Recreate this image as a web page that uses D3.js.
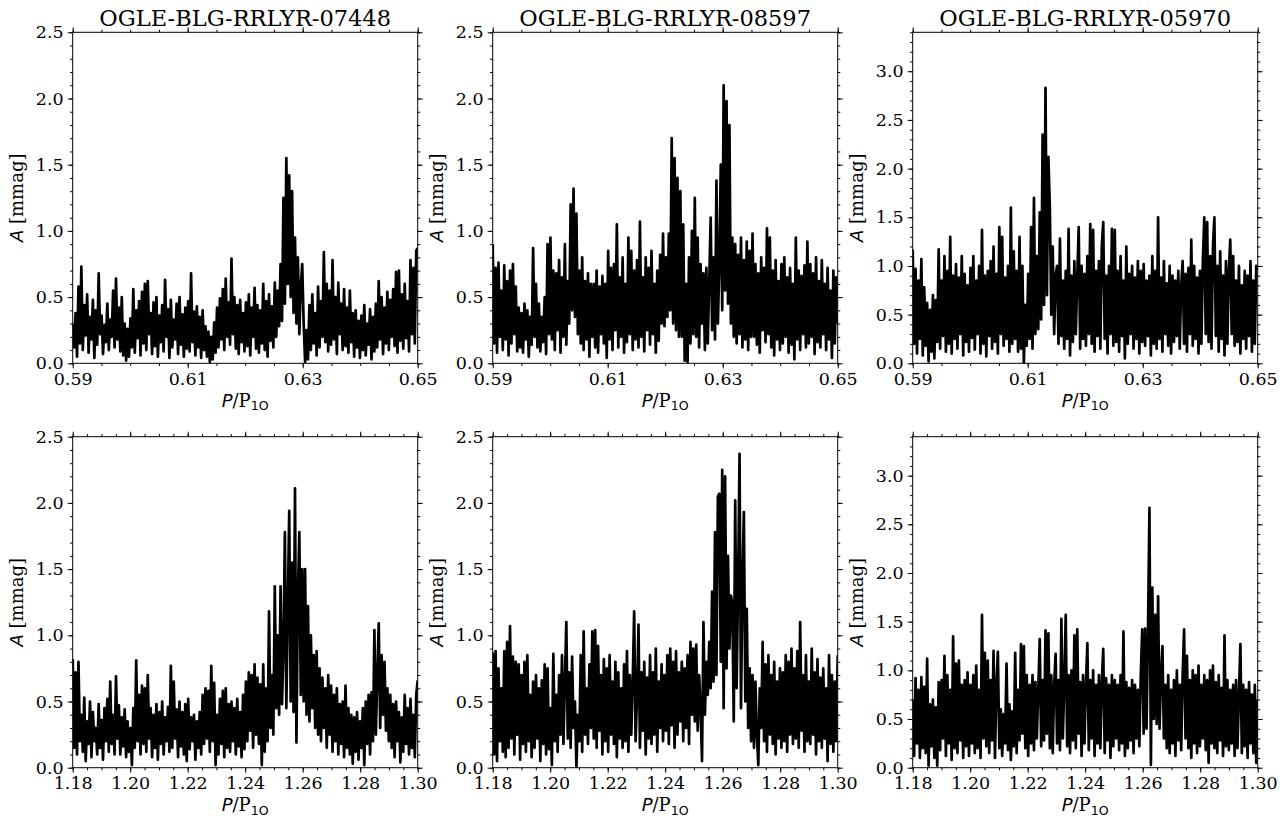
<!DOCTYPE html>
<html>
<head>
<meta charset="utf-8">
<script src="https://cdn.jsdelivr.net/npm/d3@7"></script>
<style>
  body { margin: 0; background: #fff; }
  svg { display: block; }
  .tick text { font-family: "DejaVu Serif", serif; font-size: 17.5px; fill: #000; }
  .tick line { stroke: #000; stroke-width: 1; }
</style>
</head>
<body>
<svg id="chart" width="1286" height="821"></svg>
<script>
// Star names, one per column
const starNames = ["OGLE-BLG-RRLYR-07448", "OGLE-BLG-RRLYR-08597", "OGLE-BLG-RRLYR-05970"];

// Period-ratio windows (top row: near 0.61, bottom row: near 1.25)
const periodRangeTop = [0.59, 0.65];
const periodRangeBottom = [1.18, 1.30];

// Tick values and labels
const xTicksTop = [0.59, 0.61, 0.63, 0.65];
const xTickLabelsTop = ["0.59", "0.61", "0.63", "0.65"];
const xTicksBottom = [1.18, 1.20, 1.22, 1.24, 1.26, 1.28, 1.30];
const xTickLabelsBottom = ["1.18", "1.20", "1.22", "1.24", "1.26", "1.28", "1.30"];
const yTicksShort = [0, 0.5, 1.0, 1.5, 2.0, 2.5];
const yTickLabelsShort = ["0.0", "0.5", "1.0", "1.5", "2.0", "2.5"];
const yTicksTall = [0, 0.5, 1.0, 1.5, 2.0, 2.5, 3.0];
const yTickLabelsTall = ["0.0", "0.5", "1.0", "1.5", "2.0", "2.5", "3.0"];

// Upper amplitude limit per column [mmag]
const amplitudeMax = [2.5, 2.5, 3.4];

// Amplitude spectra [mmag], evenly sampled across each period window
const amp07448Top = [
  0.30,0.12,0.38,0.05,0.58,0.15,0.73,0.10,0.44,0.21,
  0.52,0.08,0.35,0.18,0.48,0.04,0.40,0.14,0.68,0.22,
  0.36,0.07,0.29,0.16,0.45,0.10,0.33,0.20,0.55,0.12,
  0.64,0.18,0.42,0.09,0.50,0.06,0.30,0.02,0.26,0.05,
  0.34,0.12,0.56,0.08,0.40,0.19,0.47,0.06,0.54,0.15,
  0.60,0.10,0.62,0.22,0.38,0.07,0.46,0.13,0.50,0.05,
  0.36,0.16,0.44,0.09,0.63,0.20,0.41,0.04,0.48,0.12,
  0.33,0.18,0.45,0.07,0.50,0.14,0.37,0.05,0.42,0.11,
  0.47,0.09,0.68,0.16,0.39,0.06,0.43,0.12,0.35,0.04,
  0.40,0.10,0.28,0.05,0.24,0.01,0.20,0.03,0.31,0.08,
  0.42,0.12,0.49,0.18,0.56,0.10,0.64,0.20,0.46,0.14,
  0.79,0.22,0.50,0.11,0.44,0.07,0.48,0.16,0.38,0.09,
  0.46,0.13,0.52,0.06,0.42,0.20,0.57,0.11,0.44,0.08,
  0.40,0.15,0.60,0.10,0.47,0.05,0.52,0.17,0.43,0.12,
  0.61,0.20,0.55,0.28,0.75,0.32,1.25,0.45,1.55,0.60,
  1.42,0.50,1.30,0.38,0.95,0.30,0.80,0.22,0.58,0.75,
  0.30,0.01,0.25,0.03,0.44,0.10,0.52,0.15,0.38,0.06,
  0.58,0.12,0.47,0.20,0.84,0.16,0.60,0.09,0.55,0.14,
  0.78,0.18,0.50,0.07,0.61,0.22,0.45,0.10,0.56,0.13,
  0.42,0.08,0.55,0.16,0.38,0.05,0.40,0.12,0.32,0.04,
  0.36,0.10,0.44,0.06,0.30,0.14,0.41,0.03,0.35,0.09,
  0.45,0.12,0.62,0.18,0.50,0.07,0.42,0.15,0.54,0.10,
  0.48,0.20,0.56,0.13,0.69,0.08,0.70,0.17,0.52,0.11,
  0.60,0.19,0.47,0.09,0.78,0.22,0.72,0.15,0.85,0.87
];

const amp08597Top = [
  0.90,0.15,0.72,0.08,0.76,0.20,0.55,0.10,0.74,0.18,
  0.62,0.06,0.70,0.15,0.75,0.22,0.58,0.09,0.42,0.12,
  0.38,0.08,0.45,0.18,0.40,0.05,0.35,0.14,0.87,0.20,
  0.60,0.12,0.45,0.09,0.35,0.16,0.50,0.07,0.90,0.22,
  0.95,0.18,0.70,0.10,0.68,0.25,0.78,0.08,0.65,0.20,
  0.90,0.14,0.62,0.30,1.20,0.40,1.32,0.35,1.13,0.22,
  0.70,0.15,0.80,0.10,0.62,0.18,0.68,0.05,0.60,0.20,
  0.60,0.12,0.70,0.08,0.58,0.22,0.66,0.15,0.60,0.04,
  0.85,0.18,0.72,0.10,0.75,0.25,1.05,0.12,0.65,0.20,
  0.80,0.08,0.60,0.16,0.95,0.22,0.85,0.10,0.70,0.18,
  0.78,0.12,1.07,0.20,0.65,0.09,0.80,0.25,0.72,0.14,
  0.85,0.22,0.60,0.08,0.70,0.17,0.82,0.30,0.98,0.28,
  0.80,0.35,0.98,0.40,1.70,0.30,1.55,0.25,1.40,0.20,
  1.30,0.20,1.05,0.02,0.60,0.01,0.80,0.15,1.00,0.22,
  1.25,0.20,0.95,0.12,0.75,0.30,0.68,0.10,0.72,0.15,
  0.62,1.10,0.25,0.80,0.18,1.38,0.30,0.75,1.50,0.40,
  2.10,0.55,1.98,0.45,1.80,0.30,0.95,0.20,0.90,0.15,
  0.82,0.22,0.95,0.12,0.78,0.18,0.92,0.10,0.85,0.20,
  0.98,0.20,0.75,0.14,0.68,0.08,0.80,0.25,0.72,0.16,
  1.02,0.22,0.95,0.12,0.70,0.06,0.78,0.18,0.62,0.10,
  0.75,0.15,0.80,0.20,0.65,0.08,0.72,0.14,0.60,0.03,
  0.95,0.18,0.70,0.10,0.66,0.22,0.74,0.12,0.92,0.15,
  0.75,0.20,0.68,0.07,0.80,0.16,0.62,0.12,0.78,0.22,
  0.60,0.10,0.72,0.18,0.55,0.04,0.70,0.15,0.65,0.30
];

const amp05970Top = [
  1.17,0.20,0.97,0.10,0.85,0.25,1.07,0.08,0.78,0.18,
  0.62,0.02,0.55,0.12,0.70,0.05,0.65,0.22,1.17,0.15,
  0.85,0.28,1.10,0.12,0.95,0.20,1.30,0.10,0.90,0.25,
  1.02,0.15,0.88,0.30,1.10,0.08,0.92,0.22,0.80,0.12,
  0.98,0.26,1.10,0.14,0.85,0.30,1.00,0.10,1.37,0.20,
  0.90,0.07,0.95,0.28,1.05,0.15,1.20,0.22,0.92,0.10,
  1.40,0.30,1.30,0.18,0.88,0.25,1.00,0.12,1.60,0.20,
  1.15,0.25,0.95,0.12,1.30,0.15,1.00,0.00,0.60,0.18,
  0.92,0.25,1.40,0.15,1.70,0.30,1.10,0.35,1.55,0.45,
  2.35,0.60,2.83,0.70,2.12,1.60,0.50,1.20,0.30,0.90,
  1.00,0.20,1.28,0.28,0.85,0.15,0.95,0.25,1.38,0.08,
  0.90,0.22,1.05,0.30,0.88,1.40,0.15,1.00,0.25,0.92,
  0.18,1.10,0.30,1.43,0.20,1.37,0.12,0.95,0.28,1.05,
  0.15,1.20,1.45,0.25,0.90,0.10,1.00,0.30,1.38,0.18,
  1.37,0.22,0.95,0.12,1.10,0.28,0.85,0.05,1.20,0.20,
  0.92,0.30,1.00,0.15,0.88,0.25,1.05,0.10,0.95,0.22,
  1.02,0.18,0.85,0.28,0.90,0.08,1.10,0.20,0.95,0.15,
  1.50,0.25,0.88,0.12,1.05,0.30,0.82,0.18,1.00,0.10,
  0.90,0.22,0.85,0.28,0.95,0.15,0.80,1.05,0.20,0.92,
  0.12,0.98,0.30,1.27,0.18,1.00,0.25,0.88,0.10,0.95,
  0.20,1.05,1.50,0.30,1.45,0.22,1.10,0.15,1.20,1.50,
  0.28,1.00,0.12,1.15,0.25,0.90,0.08,1.05,0.20,0.95,
  1.27,0.30,1.10,0.18,0.85,0.22,1.00,0.10,0.80,0.25,
  0.95,0.15,0.90,0.28,1.05,0.12,0.85,0.20,1.00,0.95
];

const amp07448Bottom = [
  0.82,0.15,0.72,0.10,0.80,0.20,0.40,0.12,0.53,0.05,
  0.35,0.18,0.50,0.08,0.42,0.20,0.30,0.10,0.48,0.15,
  0.36,0.06,0.45,0.20,0.52,0.12,0.65,0.18,0.40,0.10,
  0.69,0.22,0.47,0.10,0.38,0.16,0.44,0.08,0.35,0.12,
  0.30,0.02,0.45,0.15,0.81,0.20,0.55,0.10,0.62,0.18,
  0.60,0.12,0.70,0.22,0.45,0.08,0.40,0.15,0.48,0.06,
  0.42,0.18,0.50,0.10,0.38,0.20,0.46,0.12,0.77,0.15,
  0.65,0.22,0.44,0.08,0.50,0.16,0.42,0.10,0.48,0.05,
  0.52,0.14,0.38,0.20,0.40,0.06,0.35,0.15,0.42,0.10,
  0.55,0.18,0.60,0.22,0.58,0.12,0.77,0.20,0.64,0.02,
  0.40,0.10,0.52,0.18,0.58,0.08,0.60,0.15,0.48,0.12,
  0.50,0.20,0.45,0.10,0.52,0.16,0.42,0.08,0.55,0.14,
  0.65,0.20,0.72,0.28,0.70,0.15,0.78,0.25,0.68,0.18,
  0.63,0.02,0.78,0.12,0.60,0.20,1.18,0.30,0.70,0.25,
  1.37,0.45,1.00,0.40,1.37,0.48,0.90,1.78,0.45,1.20,
  1.94,0.50,1.55,0.42,2.11,0.19,1.30,1.78,0.55,1.50,
  0.50,1.50,0.40,1.22,0.35,1.00,0.45,0.85,0.30,0.88,
  0.25,0.75,0.20,0.68,0.30,0.60,0.15,0.70,0.25,0.62,
  0.12,0.55,0.20,0.60,0.10,0.48,0.18,0.50,0.08,0.62,
  0.15,0.45,0.10,0.40,0.03,0.38,0.12,0.42,0.06,0.35,
  0.15,0.45,0.02,0.50,0.18,0.55,0.10,0.57,0.20,1.04,
  0.25,0.70,1.09,0.30,0.85,0.40,0.80,0.28,0.60,0.20,
  0.55,0.15,0.48,0.08,0.50,0.20,0.42,0.04,0.38,0.12,
  0.55,0.18,0.45,0.10,0.52,0.15,0.40,0.08,0.55,0.66
];

const amp08597Bottom = [
  0.87,0.10,0.88,0.05,0.75,0.20,0.60,0.12,0.88,0.08,
  0.95,0.15,1.07,0.22,0.84,0.10,0.80,0.25,0.78,0.06,
  0.70,0.18,0.80,0.12,0.85,0.20,0.55,0.08,0.65,0.15,
  0.70,0.22,0.60,0.05,0.66,0.18,0.78,0.10,0.75,0.14,
  0.45,0.02,0.86,0.20,0.55,0.12,0.70,0.25,0.85,0.18,
  0.65,1.10,0.22,0.72,0.15,0.84,0.30,0.50,0.00,0.40,
  0.20,0.85,0.12,1.03,0.25,0.60,0.18,0.78,0.30,1.03,
  0.22,1.04,0.15,0.92,0.28,0.70,0.10,0.82,0.20,0.75,
  0.12,0.85,0.25,0.65,0.18,0.80,0.08,0.72,0.22,0.60,
  0.15,0.78,0.20,0.88,0.12,0.70,0.25,0.65,1.18,0.20,
  0.55,1.08,0.15,0.72,0.28,0.80,0.10,0.68,0.22,0.85,
  0.18,0.72,0.25,0.90,0.12,0.65,0.30,0.78,0.20,0.70,
  0.28,0.85,0.18,0.90,0.32,0.80,0.15,0.88,0.25,0.72,
  0.35,0.80,0.20,0.75,0.30,0.85,0.18,0.95,0.40,0.90,
  0.35,0.93,0.28,0.70,0.45,0.05,1.10,0.40,0.80,0.55,
  0.95,0.60,1.33,0.65,1.78,0.70,2.05,2.07,0.80,2.25,
  0.45,2.20,0.75,1.60,0.90,1.30,1.25,0.35,2.02,0.60,
  1.40,2.37,0.45,1.40,1.93,0.50,1.20,0.30,0.75,0.20,
  0.70,0.15,0.65,0.25,0.02,0.60,0.30,0.95,0.20,0.78,
  0.12,0.85,0.25,0.70,0.18,0.80,0.10,0.65,0.22,0.75,
  0.15,0.72,0.20,0.85,0.12,0.80,0.25,0.90,0.18,0.75,
  0.22,0.88,0.15,1.10,0.28,0.70,0.12,0.85,0.20,0.65,
  0.18,0.90,0.25,0.72,0.10,0.82,0.20,0.68,0.15,0.75,
  0.22,0.60,0.05,0.85,0.18,0.70,0.12,0.65,0.20,0.85
];

const amp05970Bottom = [
  0.70,0.12,0.92,0.25,0.80,0.10,0.93,0.20,0.83,0.15,
  1.12,0.02,0.65,0.22,0.70,0.10,0.62,0.02,0.88,0.18,
  0.90,0.30,1.15,0.12,0.95,0.25,0.80,0.08,1.35,0.20,
  1.07,0.15,1.10,0.28,0.85,0.10,0.90,0.22,0.98,0.12,
  0.85,0.25,0.95,0.15,1.05,0.20,0.80,0.10,1.57,0.30,
  1.18,0.22,1.10,0.15,0.90,0.28,1.20,0.10,0.85,1.19,
  0.20,0.60,0.12,0.55,0.25,1.07,0.18,0.65,0.08,0.58,
  0.22,1.18,0.15,0.80,0.28,1.27,0.35,1.25,0.20,0.95,
  0.12,0.85,0.25,0.95,0.18,0.88,0.30,0.80,1.32,0.22,
  0.90,0.28,1.41,0.35,1.38,0.20,0.95,0.15,0.85,1.17,
  0.25,0.90,0.18,1.53,0.30,0.85,1.57,0.22,0.95,0.15,
  1.00,0.28,1.36,0.20,1.42,0.35,0.88,0.12,0.95,0.25,
  0.85,1.28,0.18,0.90,0.30,1.00,0.12,0.85,0.25,0.95,
  0.20,0.88,1.22,0.15,0.92,0.28,0.85,0.10,0.95,0.22,
  0.90,0.30,0.85,0.18,0.95,0.25,1.40,0.12,0.88,0.20,
  0.82,0.28,0.90,0.15,0.85,0.30,0.80,0.22,0.95,1.42,
  0.35,1.43,0.40,1.40,2.67,0.03,1.85,0.50,1.57,0.45,
  1.76,0.40,0.95,1.25,0.30,0.85,0.20,0.95,0.15,0.80,
  0.25,0.90,0.12,1.00,0.28,0.85,0.18,0.95,1.42,0.30,
  1.15,0.20,0.90,0.10,1.00,0.25,0.95,0.15,1.05,0.22,
  0.85,0.30,0.95,0.18,0.90,0.05,1.00,0.25,1.05,0.20,
  0.88,0.15,0.95,0.28,0.82,0.12,1.36,0.22,0.90,0.18,
  0.80,0.25,0.85,0.12,0.90,0.20,0.75,1.27,0.15,0.85,
  0.22,0.80,0.10,0.88,0.25,0.75,0.15,0.85,0.05,0.70
];

const spectraTop = [amp07448Top, amp08597Top, amp05970Top];
const spectraBottom = [amp07448Bottom, amp08597Bottom, amp05970Bottom];

// ---------- layout ----------
const colLeft = [72.7, 492.7, 912.7];
const panelW = 345;
const rowTop = [32.3, 436.7];
const panelH = 331;
const majorLen = 5, minorLen = 2.6;

const svg = d3.select("#chart");

function minorValues(lo, hi, step) {
  const n = Math.round((hi - lo) / step);
  return d3.range(n + 1).map(k => +(lo + k * step).toFixed(4));
}

function drawPanel(row, col) {
  const isTop = row === 0;
  const xDomain = isTop ? periodRangeTop : periodRangeBottom;
  const xTicks = isTop ? xTicksTop : xTicksBottom;
  const xLabels = isTop ? xTickLabelsTop : xTickLabelsBottom;
  const yMax = amplitudeMax[col];
  const yTicks = yMax > 3 ? yTicksTall : yTicksShort;
  const yLabels = yMax > 3 ? yTickLabelsTall : yTickLabelsShort;
  const spectrum = isTop ? spectraTop[col] : spectraBottom[col];

  const left = colLeft[col], top = rowTop[row];
  const g = svg.append("g").attr("transform", `translate(${left},${top})`);

  const x = d3.scaleLinear().domain(xDomain).range([0, panelW]);
  const y = d3.scaleLinear().domain([0, yMax]).range([panelH, 0]);
  // sampling grid: index -> period ratio
  const sample = d3.scaleLinear().domain([0, spectrum.length - 1]).range(xDomain);

  const clipId = `clip-${row}-${col}`;
  g.append("clipPath").attr("id", clipId)
    .append("rect").attr("width", panelW).attr("height", panelH);

  const line = d3.line()
    .x((d, i) => x(sample(i)))
    .y(d => y(d));

  g.append("path")
    .datum(spectrum)
    .attr("clip-path", `url(#${clipId})`)
    .attr("fill", "none")
    .attr("stroke", "#000")
    .attr("stroke-width", 2.7)
    .attr("stroke-linejoin", "round")
    .attr("d", line);

  const xMinor = minorValues(xDomain[0], xDomain[1], 0.005);
  const yMinor = minorValues(0, yMax, 0.1);

  function addAxis(axis, transform) {
    const a = g.append("g").attr("transform", transform).call(axis);
    a.select(".domain").remove();
    return a;
  }

  // major ticks with labels (bottom, left)
  addAxis(d3.axisBottom(x).tickValues(xTicks).tickSize(majorLen).tickPadding(4)
    .tickFormat((d, i) => xLabels[i]), `translate(0,${panelH})`);
  addAxis(d3.axisLeft(y).tickValues(yTicks).tickSize(majorLen).tickPadding(4)
    .tickFormat((d, i) => yLabels[i]), "translate(0,0)");
  // major ticks without labels (top, right)
  addAxis(d3.axisTop(x).tickValues(xTicks).tickSize(majorLen).tickFormat(""), "translate(0,0)");
  addAxis(d3.axisRight(y).tickValues(yTicks).tickSize(majorLen).tickFormat(""), `translate(${panelW},0)`);
  // minor ticks on all four sides
  addAxis(d3.axisBottom(x).tickValues(xMinor).tickSize(minorLen).tickFormat(""), `translate(0,${panelH})`);
  addAxis(d3.axisTop(x).tickValues(xMinor).tickSize(minorLen).tickFormat(""), "translate(0,0)");
  addAxis(d3.axisLeft(y).tickValues(yMinor).tickSize(minorLen).tickFormat(""), "translate(0,0)");
  addAxis(d3.axisRight(y).tickValues(yMinor).tickSize(minorLen).tickFormat(""), `translate(${panelW},0)`);

  // frame
  g.append("rect")
    .attr("width", panelW).attr("height", panelH)
    .attr("fill", "none").attr("stroke", "#000").attr("stroke-width", 1);

  // y label: A [mmag]
  const yl = g.append("text")
    .attr("transform", `translate(-50,${panelH / 2}) rotate(-90)`)
    .attr("text-anchor", "middle")
    .attr("font-size", "18px")
    .attr("fill", "#000");
  yl.append("tspan").attr("font-family", "DejaVu Sans").attr("font-style", "italic").text("A");
  yl.append("tspan").attr("font-family", "DejaVu Serif").text(" [mmag]");

  // x label: P/P_1O
  const xl = g.append("text")
    .attr("x", panelW / 2).attr("y", panelH + 43.5)
    .attr("text-anchor", "middle")
    .attr("font-size", "18px")
    .attr("fill", "#000");
  xl.append("tspan").attr("font-family", "DejaVu Sans").attr("font-style", "italic").text("P");
  xl.append("tspan").attr("font-family", "DejaVu Serif").text("/P");
  xl.append("tspan").attr("font-family", "DejaVu Sans").attr("font-size", "12.6px").attr("dy", 3.5).text("1O");

  if (isTop) {
    g.append("text")
      .attr("x", panelW / 2).attr("y", -6)
      .attr("text-anchor", "middle")
      .attr("font-family", "DejaVu Serif")
      .attr("font-size", "22.5px")
      .attr("fill", "#000")
      .text(starNames[col]);
  }
}

for (let r = 0; r < 2; r++) {
  for (let c = 0; c < 3; c++) drawPanel(r, c);
}
</script>
</body>
</html>
